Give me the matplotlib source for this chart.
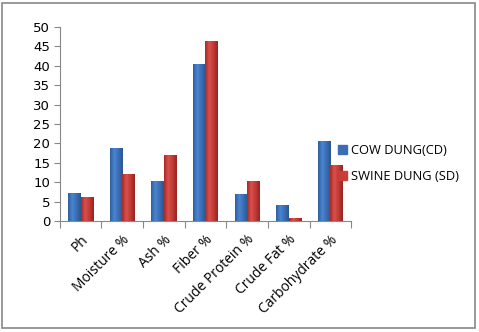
import matplotlib
matplotlib.use("Agg")
import matplotlib.pyplot as plt
import numpy as np
from matplotlib.patches import Rectangle
from matplotlib.colors import LinearSegmentedColormap

categories = ["Ph", "Moisture %", "Ash %", "Fiber %", "Crude Protein %", "Crude Fat %", "Carbohydrate %"]
cow_dung = [7.3, 18.9, 10.4, 40.5, 7.0, 4.1, 20.6]
swine_dung = [6.3, 12.2, 17.0, 46.4, 10.3, 0.7, 14.5]
series_names = ["COW DUNG(CD)", "SWINE DUNG (SD)"]
yticks = [0, 5, 10, 15, 20, 25, 30, 35, 40, 45, 50]

fig = plt.figure(figsize=(4.79, 3.32), dpi=100)
fig.patches.append(Rectangle((0.005, 0.012), 0.987, 0.978, transform=fig.transFigure,
                             fill=False, edgecolor="#888888", linewidth=1.2))
ax = fig.add_axes([0.125, 0.334, 0.608, 0.585])

x = np.arange(len(categories))
w = 0.3
blue_cmap = LinearSegmentedColormap.from_list("b", ["#2E5E9E", "#4A85D0", "#3B6DB3", "#2A5590"])
red_cmap = LinearSegmentedColormap.from_list("r", ["#A82A27", "#D9504C", "#C03A36", "#962321"])
grad = np.linspace(0, 1, 64).reshape(1, -1)

bars1 = ax.bar(x - w / 2, cow_dung, w, color="#3A6DB5", label=series_names[0], zorder=2)
bars2 = ax.bar(x + w / 2, swine_dung, w, color="#C93C38", label=series_names[1], zorder=2)
for bars, cmap in ((bars1, blue_cmap), (bars2, red_cmap)):
    for b in bars:
        x0, y0 = b.get_x(), b.get_y()
        bw, bh = b.get_width(), b.get_height()
        im = ax.imshow(grad, cmap=cmap, aspect="auto", extent=(x0, x0 + bw, y0, y0 + bh), zorder=3)
        im.set_clip_path(b)

ax.set_xlim(-0.5, len(categories) - 0.5)
ax.set_ylim(0, 50)
ax.set_yticks(yticks)
ax.set_yticklabels([str(t) for t in yticks], fontsize=9.5, family="DejaVu Sans")
ax.set_xticks(np.arange(len(categories) + 1) - 0.5)
ax.set_xticklabels([])
ax.set_xticks(x, minor=True)
ax.set_xticklabels(categories, minor=True, rotation=45, ha="right", rotation_mode="anchor",
                   fontsize=10, family="Open Sans")
ax.tick_params(axis="x", which="minor", length=0, pad=8)
ax.tick_params(axis="x", which="major", length=5, color="#888888", direction="out")
ax.tick_params(axis="y", length=4, color="#888888", direction="out", pad=3)
for s in ["top", "right"]:
    ax.spines[s].set_visible(False)
for s in ["left", "bottom"]:
    ax.spines[s].set_color("#888888")
ax.set_facecolor("none")

leg = fig.legend(handles=[Rectangle((0, 0), 1, 1, color="#3A6DB5"), Rectangle((0, 0), 1, 1, color="#C93C38")],
                 labels=series_names, loc="upper left", bbox_to_anchor=(0.682, 0.6),
                 frameon=False, prop={"family": "Open Sans", "size": 9.3},
                 handlelength=0.7, handleheight=0.7, handletextpad=0.25, labelspacing=1.0)

fig.savefig("out.png", dpi=100)
